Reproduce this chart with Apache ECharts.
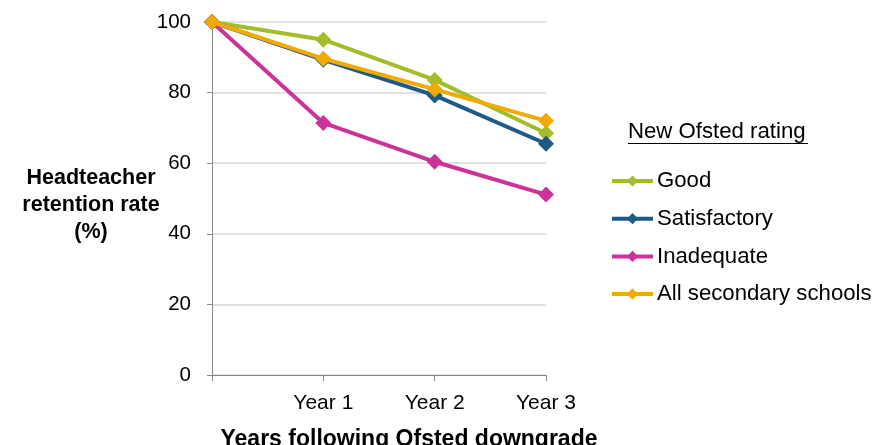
<!DOCTYPE html>
<html><head><meta charset="utf-8">
<script src="https://cdn.jsdelivr.net/npm/echarts@6/dist/echarts.min.js"></script>
<style>html,body{margin:0;padding:0;background:#fff}#c{width:879px;height:445px}</style>
</head><body><div id="c"></div>
<script>
const categories = ["", "Year 1", "Year 2", "Year 3"];
const good = [100, 95.0, 83.6, 68.5];
const satisfactory = [100, 89.3, 79.2, 65.5];
const inadequate = [100, 71.4, 60.4, 51.1];
const allSecondary = [100, 89.6, 80.9, 72.0];
const yTicks = [0, 20, 40, 60, 80, 100];
const yTitle = 'Headteacher\nretention rate\n(%)';
const xTitle = 'Years following Ofsted downgrade';
const legendTitle = 'New Ofsted rating';

const FONT = '"Liberation Sans", Arial, sans-serif';
const colors = ['#A3BD2A', '#1D5A85', '#CC3399', '#F0AA00'];
const names = ['Good', 'Satisfactory', 'Inadequate', 'All secondary schools'];
const data = [good, satisfactory, inadequate, allSecondary];

const chart = echarts.init(document.getElementById('c'), null, {renderer: 'canvas'});
chart.setOption({
  animation: false,
  textStyle: {fontFamily: FONT},
  grid: {left: 212, right: 333, top: 22, bottom: 70, outerBoundsMode: 'none', containLabel: false},
  legend: {
    orient: 'vertical', left: 605, top: 164,
    itemWidth: 41, itemHeight: 14, itemGap: 13.7,
    lineStyle: {width: 4},
    textStyle: {fontFamily: FONT, fontSize: 22.2, lineHeight: 24, color: '#000', padding: [0, 0, 0, -1]},
    data: names
  },
  graphic: [
    {type: 'text', left: 628, top: 121, style: {text: legendTitle, font: '22.2px ' + FONT, fill: '#000'}},
    {type: 'line', shape: {x1: 628, y1: 143.5, x2: 808, y2: 143.5}, style: {stroke: '#000', lineWidth: 1.2}},
    {type: 'text', x: 91, y: 205, style: {text: yTitle, font: 'bold 21.5px ' + FONT, fill: '#000', align: 'center', verticalAlign: 'middle', lineHeight: 27}}
  ],
  xAxis: {
    type: 'category', data: categories, boundaryGap: false,
    axisLine: {lineStyle: {color: '#888', width: 1}},
    axisTick: {show: true, alignWithLabel: true, length: 6, lineStyle: {color: '#888'}},
    axisLabel: {fontSize: 21, color: '#000', margin: 18, fontFamily: FONT},
    name: xTitle, nameLocation: 'middle', nameGap: 53,
    nameTextStyle: {fontSize: 23, fontWeight: 'bold', color: '#000', fontFamily: FONT, padding: [0, 0, 0, 60]}
  },
  yAxis: {
    type: 'value', min: yTicks[0], max: yTicks[yTicks.length - 1], interval: 20,
    axisLine: {show: true, lineStyle: {color: '#888', width: 1}},
    axisTick: {show: true, length: 5, lineStyle: {color: '#888'}},
    splitLine: {lineStyle: {color: '#d9d9d9', width: 1.5}},
    axisLabel: {fontSize: 20.5, color: '#000', margin: 21, fontFamily: FONT}
  },
  series: data.map((d, i) => ({
    name: names[i], type: 'line', data: d,
    symbol: 'diamond', symbolSize: 16,
    lineStyle: {color: colors[i], width: 4},
    itemStyle: {color: colors[i]},
    z: 2 + i
  }))
});
</script></body></html>
